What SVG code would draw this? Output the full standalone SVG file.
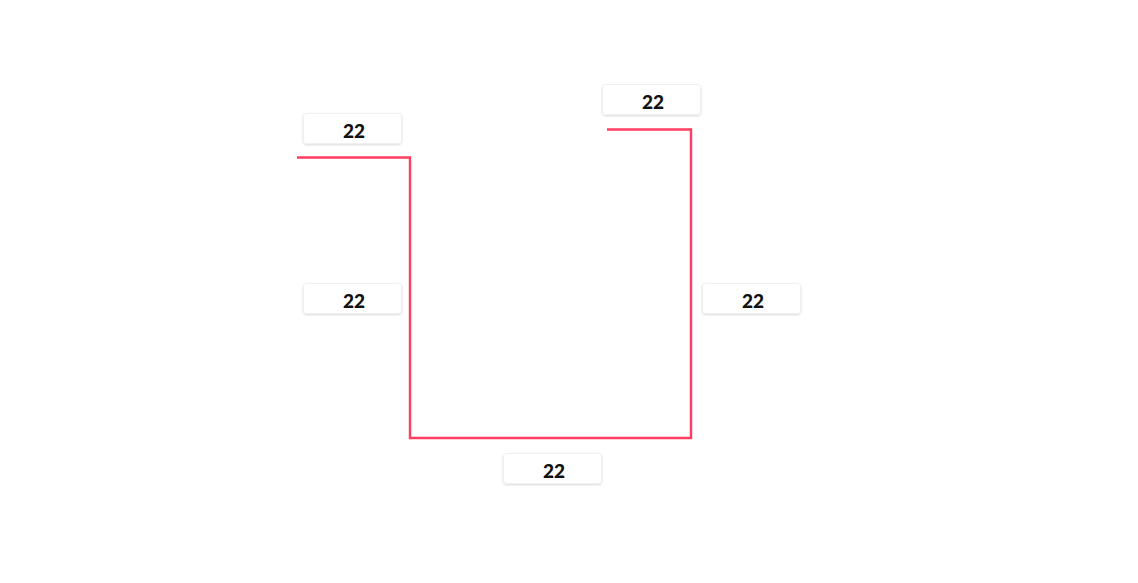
<svg xmlns="http://www.w3.org/2000/svg" width="1138" height="583" viewBox="0 0 1138 583">
<defs>
<filter id="sh" x="-10%" y="-20%" width="120%" height="150%">
<feDropShadow dx="0" dy="1" stdDeviation="0.8" flood-color="#000" flood-opacity="0.15"/>
</filter>
<style>
.box{fill:#fff;stroke:#efefef;stroke-width:1;filter:url(#sh)}
.lbl{font-family:"Lato","Noto Sans","Liberation Sans",sans-serif;font-weight:900;font-size:19px;fill:#111;text-anchor:middle}
.wire{fill:none;stroke:#ff3d5e;stroke-width:2.4;stroke-linejoin:miter}
</style>
</defs>
<rect width="1138" height="583" fill="#fff"/>
<g id="connectors">
<path class="wire" d="M297,157.5 H410 V438 H691 V129.5 H607"/>
</g>
<g id="label-top-left"><rect class="box" x="303.5" y="113.5" width="98" height="30" rx="3"/><text class="lbl" x="354" y="138">22</text></g>
<g id="label-top-right"><rect class="box" x="602.5" y="84.5" width="98" height="30" rx="3"/><text class="lbl" x="653" y="109">22</text></g>
<g id="label-mid-left"><rect class="box" x="303.5" y="283.5" width="98" height="30" rx="3"/><text class="lbl" x="354" y="308">22</text></g>
<g id="label-mid-right"><rect class="box" x="702.5" y="283.5" width="98" height="30" rx="3"/><text class="lbl" x="753" y="308">22</text></g>
<g id="label-bottom"><rect class="box" x="503.5" y="453.5" width="98" height="30" rx="3"/><text class="lbl" x="554" y="478">22</text></g>
</svg>
